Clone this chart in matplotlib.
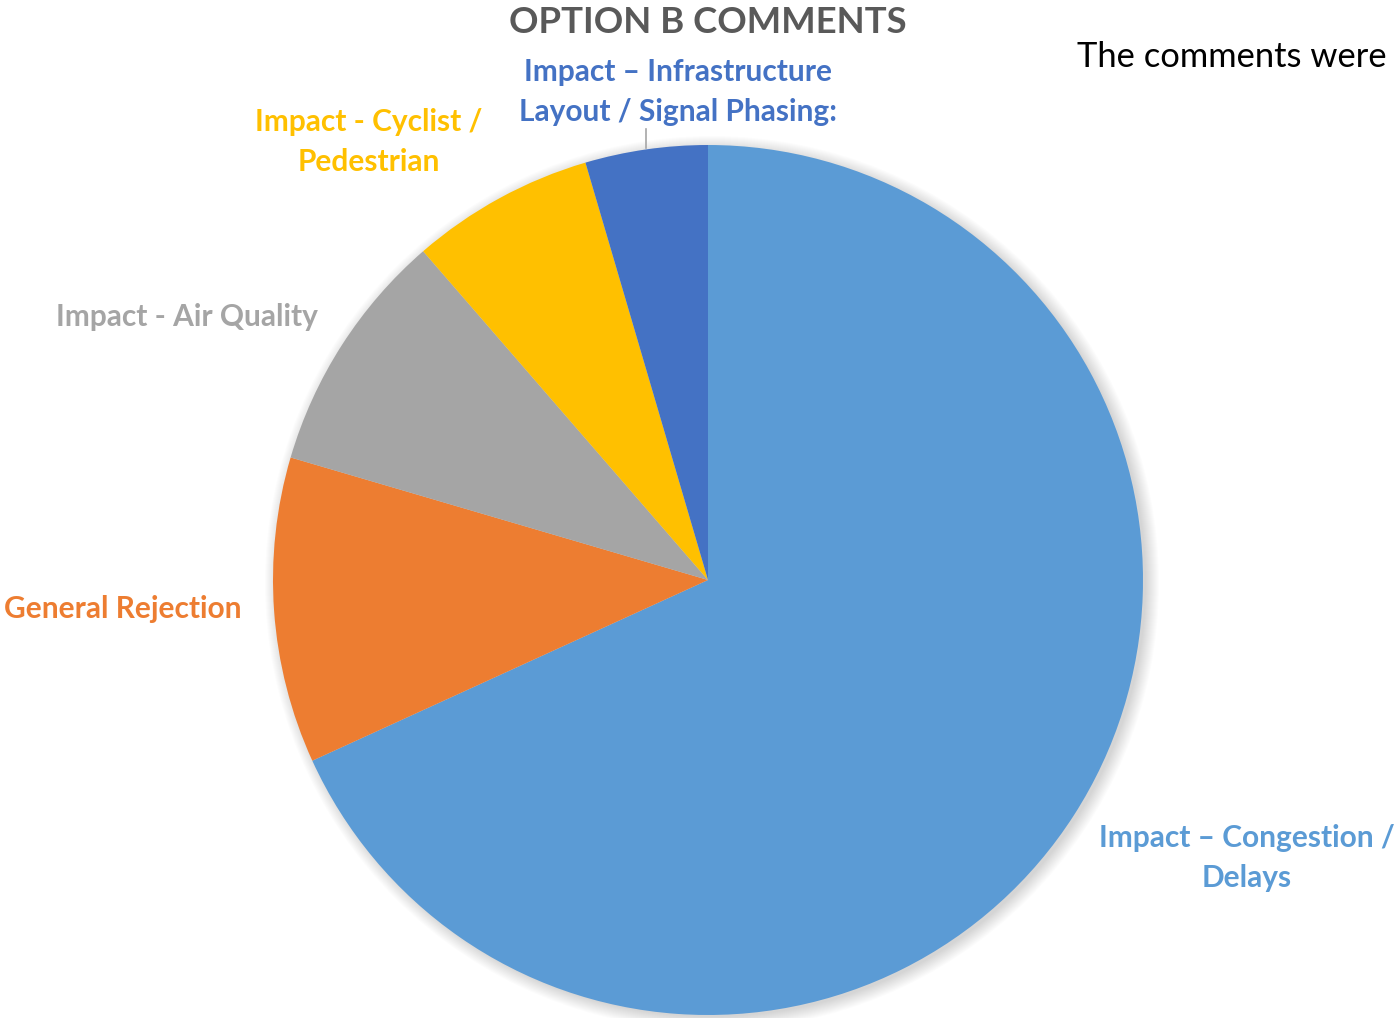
import matplotlib.pyplot as plt
from matplotlib.patches import Circle

plt.rcParams['font.family'] = ['Lato', 'DejaVu Sans']

categories = [
    "Impact \u2013 Congestion /\nDelays",
    "General Rejection",
    "Impact - Air Quality",
    "Impact - Cyclist /\nPedestrian",
    "Impact \u2013 Infrastructure\nLayout / Signal Phasing:",
]
counts = [30, 5, 4, 3, 2]
colors = ["#5B9BD5", "#ED7D31", "#A5A5A5", "#FFC000", "#4472C4"]

W, H = 1394, 1018
fig = plt.figure(figsize=(W / 100, H / 100), dpi=100)
ax = fig.add_axes([0, 0, 1, 1])
ax.set_xlim(0, W)
ax.set_ylim(0, H)
ax.set_aspect('equal')
ax.axis('off')

cx, cy, R = 708, H - 580, 435

# soft drop shadow behind the pie
for i in range(14):
    r = R + 12 - i
    ax.add_patch(Circle((cx + 4, cy - 3), r, facecolor='black',
                        edgecolor='none', alpha=0.012, zorder=0))

ax.pie(counts, colors=colors, startangle=90, counterclock=False,
       center=(cx, cy), radius=R, frame=True,
       wedgeprops=dict(linewidth=0, zorder=2))
ax.set_xlim(0, W)
ax.set_ylim(0, H)
ax.axis('off')

label_pos = [(1247, 858), (123, 609), (187, 317), (369, 142), (678, 92)]
for text, col, (x, y) in zip(categories, colors, label_pos):
    ax.text(x, H - y, text, color=col, fontsize=21.5, fontweight='bold',
            ha='center', va='center', linespacing=1.55, zorder=5)

# leader line for the smallest slice
ax.plot([645.5, 645.5], [H - 129, H - 148], color='#A6A6A6', lw=1.2, zorder=3)

ax.text(708, H - 22, "OPTION B COMMENTS", color='#595959', fontsize=26.3,
        fontweight='bold', ha='center', va='center', zorder=5)
ax.text(1077, H - 57, "The comments were", color='black', fontsize=24.8,
        ha='left', va='center', zorder=5)

fig.savefig('out.png', dpi=100)
